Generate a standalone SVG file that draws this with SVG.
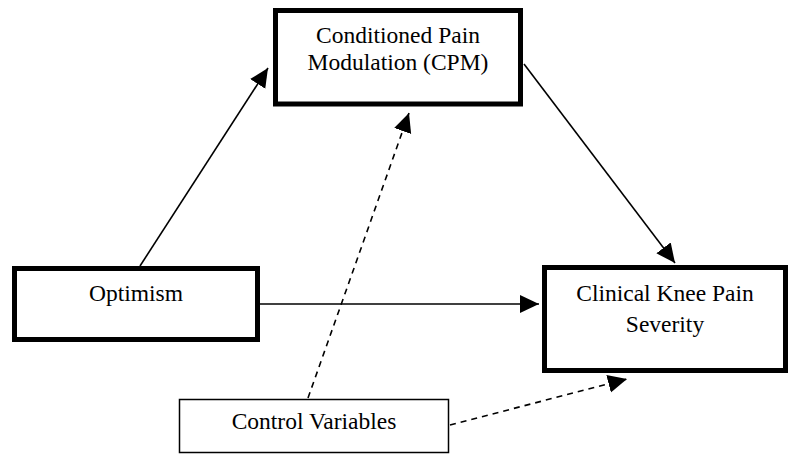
<svg xmlns="http://www.w3.org/2000/svg" width="800" height="470" viewBox="0 0 800 470">
  <style>
    .box { fill: #ffffff; stroke: #000000; stroke-width: 5; }
    .thin { fill: #ffffff; stroke: #000000; stroke-width: 1.5; }
    .lbl { font-family: "Liberation Serif", "Times New Roman", serif; font-size: 23.5px; fill: #000000; text-anchor: middle; }
    .lbl-s { font-family: "Liberation Serif", "Times New Roman", serif; font-size: 23.5px; fill: #000000; text-anchor: middle; }
    .edge { fill: none; stroke: #000000; stroke-width: 1.6; }
    .dash { stroke-dasharray: 6 5; }
  </style>
  <defs>
    <marker id="arrow" markerUnits="userSpaceOnUse" markerWidth="22" markerHeight="20" refX="19" refY="9" orient="auto">
      <path d="M0,0 L19,9 L0,18 z" fill="#000000"/>
    </marker>
  </defs>
  <rect width="800" height="470" fill="#ffffff"/>
  <g id="connectors">
    <line class="edge" x1="140" y1="266" x2="268" y2="68" marker-end="url(#arrow)"/>
    <line class="edge" x1="524" y1="64" x2="675" y2="263" marker-end="url(#arrow)"/>
    <line class="edge" x1="260" y1="304" x2="539" y2="304" marker-end="url(#arrow)"/>
    <line class="edge dash" x1="308" y1="398" x2="409" y2="113" marker-end="url(#arrow)"/>
    <line class="edge dash" x1="450" y1="425" x2="627" y2="379" marker-end="url(#arrow)"/>
  </g>
  <g id="node-cpm">
    <rect class="box" x="275.5" y="10.5" width="245" height="93.5"/>
    <text class="lbl" x="398" y="43">Conditioned Pain</text>
    <text class="lbl" x="398" y="70">Modulation (CPM)</text>
  </g>
  <g id="node-optimism">
    <rect class="box" x="14.5" y="268.5" width="243" height="71"/>
    <text class="lbl" x="136" y="301">Optimism</text>
  </g>
  <g id="node-clinical">
    <rect class="box" x="544.5" y="267.5" width="241" height="103"/>
    <text class="lbl" x="665" y="301">Clinical Knee Pain</text>
    <text class="lbl" x="665" y="332">Severity</text>
  </g>
  <g id="node-control">
    <rect class="thin" x="179.5" y="399.5" width="269" height="53"/>
    <text class="lbl-s" x="314" y="429">Control Variables</text>
  </g>
</svg>
